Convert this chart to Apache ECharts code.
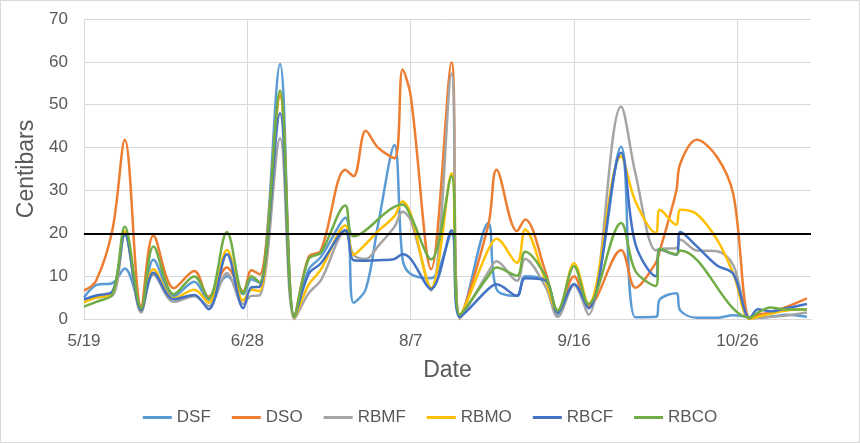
<!DOCTYPE html>
<html>
<head>
<meta charset="utf-8">
<script src="https://cdn.jsdelivr.net/npm/echarts@6/dist/echarts.min.js"></script>
<style>
  html, body { margin: 0; padding: 0; background: #fff; }
  #chart { width: 860px; height: 443px; box-sizing: border-box; border: 1px solid #d9d9d9; }
</style>
</head>
<body>
<div id="chart"></div>
<script>
// days counted from 5/19
const days = [0, 3, 7, 10, 14, 17, 22, 27, 30.5, 35, 39, 41, 43, 48, 51.5, 55, 58, 64, 66, 69,
  72, 76, 78, 80, 85, 90, 92, 99, 101, 106, 108, 113, 116, 120, 123.5, 131.5, 135, 140, 141, 145,
  146, 150, 155, 159, 163, 165, 168, 172, 177]

const tickLabels = ['5/19', '6/28', '8/7', '9/16', '10/26']

const DSF = [5, 7.9, 8.4, 11.8, 3, 13.8, 5.3, 8.7, 4.5, 10, 5.8, 9.3, 8.5, 59.5, 0.5, 11.5, 14.5, 23.6, 3.8, 7,
  22, 40.6, 14, 10.5, 9.5, 20, 0.5, 22.4, 7, 5.4, 10, 9, 1, 8, 3, 40.2, 0.4, 0.5, 4.6, 6,
  2, 0.3, 0.3, 0.9, 0.4, 0.3, 0.5, 1, 0.5]
const DSO = [6.6, 9, 21, 41.8, 3, 19.5, 7.2, 11.2, 5.2, 12, 6.5, 11.4, 10.4, 52, 0.5, 14.5, 16, 34.8, 33.3, 43.9,
  40, 37.5, 58.2, 52, 11.6, 59.9, 0.5, 22, 34.8, 20.5, 23.2, 11, 2, 10, 3, 16.1, 7.3, 13.1, 16, 29.8,
  36.3, 41.8, 37.8, 29, 0.2, 1, 1.5, 2.8, 4.8]
const RBMF = [4, 5, 5.5, 20, 1.5, 10.4, 4, 5.3, 3, 10.7, 3.5, 5.4, 5.5, 42.2, 0, 6, 9, 20.5, 15, 14,
  17, 21.5, 25, 23, 6.6, 57.2, 0, 11, 13.5, 8.9, 14, 7.5, 0.5, 8, 1, 49.6, 34, 16, 16.4, 16.5,
  18.5, 16, 15.8, 12.5, 0, 0.3, 0.5, 0.8, 1.5]
const RBMO = [3.9, 5, 6, 20.5, 2, 11.6, 4.8, 6.8, 3.8, 16.1, 4.3, 6.8, 6.5, 52.7, 0.3, 8, 11.5, 21.8, 15, 17.5,
  20.5, 24, 27.4, 24.5, 7.3, 34, 1, 16.2, 18.7, 13.1, 20.9, 8.9, 1.5, 13, 3.5, 37.9, 27.5, 20.1, 25.5, 22,
  25.5, 24.5, 18.5, 10.5, 0, 0.5, 1.2, 2, 2.2]
const RBCF = [4.6, 5.5, 6.5, 19.7, 2, 10.8, 4.6, 5.6, 2.3, 15.1, 2.5, 7.4, 7.5, 48, 0.5, 10.5, 13, 20.7, 13.7, 13.6,
  13.7, 14, 15.1, 14, 7, 20.7, 0.5, 7, 8.1, 5.4, 9.5, 9, 1.5, 8.1, 2.5, 38.8, 17.5, 10, 16.2, 15,
  20.3, 17, 12.5, 10.5, 0.2, 2.3, 1.8, 2.5, 3.5]
const RBCO = [2.9, 4, 5.8, 21.5, 2.5, 16.9, 5.8, 9.9, 4.8, 20.3, 6, 10, 8.5, 53.3, 0.5, 14, 15.5, 26.5, 19.3, null,
  null, null, 26.7, 24, 13.9, 33.3, 1, 10, 12, 10.1, 15.7, 10, 2, 12.3, 3.5, 22.4, 11.2, 7.7, 16.4, 15.1,
  16, null, null, null, 0.3, 1.5, 2.7, 2.2, 2.2]

const seriesNames = ['DSF', 'DSO', 'RBMF', 'RBMO', 'RBCF', 'RBCO']
const seriesValues = [DSF, DSO, RBMF, RBMO, RBCF, RBCO]
const colors = ['#5B9BD5', '#ED7D31', '#A5A5A5', '#FFC000', '#4472C4', '#70AD47']
const threshold = 20

const font = 'Liberation Sans, Arial, sans-serif'
const chart = echarts.init(document.getElementById('chart'))

const series = seriesNames.map((name, i) => ({
  name: name,
  type: 'line',
  smooth: 0.35,
  connectNulls: true,
  showSymbol: false,
  symbol: 'none',
  lineStyle: { width: 2.5, color: colors[i] },
  itemStyle: { color: colors[i] },
  data: days.map((d, k) => [d, seriesValues[i][k]])
}))

series[series.length - 1].markLine = {
  silent: true,
  symbol: 'none',
  label: { show: false },
  lineStyle: { color: '#000', width: 2, type: 'solid' },
  data: [{ yAxis: threshold }]
}

chart.setOption({
  animation: false,
  textStyle: { fontFamily: font },
  grid: { left: 83, right: 48, top: 18, bottom: 123 },
  legend: {
    bottom: 11,
    left: 'center',
    icon: 'rect',
    itemWidth: 29,
    itemHeight: 3,
    itemGap: 21,
    textStyle: { fontSize: 17, color: '#595959', fontFamily: font },
    data: seriesNames
  },
  xAxis: {
    type: 'value',
    min: 0,
    max: 178,
    interval: 40,
    name: 'Date',
    nameLocation: 'middle',
    nameGap: 40,
    nameTextStyle: { fontSize: 23, color: '#595959', fontFamily: font },
    axisLine: { lineStyle: { color: '#d9d9d9' } },
    axisTick: { show: false },
    axisLabel: {
      fontSize: 17,
      color: '#595959',
      margin: 14,
      showMaxLabel: false,
      formatter: v => tickLabels[v / 40] || ''
    },
    splitLine: { show: true, showMaxLine: false, lineStyle: { color: '#d9d9d9' } }
  },
  yAxis: {
    type: 'value',
    min: 0,
    max: 70,
    interval: 10,
    name: 'Centibars',
    nameLocation: 'middle',
    nameGap: 39,
    nameTextStyle: { fontSize: 23, color: '#595959', fontFamily: font },
    axisLine: { show: false },
    axisTick: { show: false },
    axisLabel: { fontSize: 17, color: '#595959', margin: 16 },
    splitLine: { lineStyle: { color: '#d9d9d9' } }
  },
  series: series
})
</script>
</body>
</html>
